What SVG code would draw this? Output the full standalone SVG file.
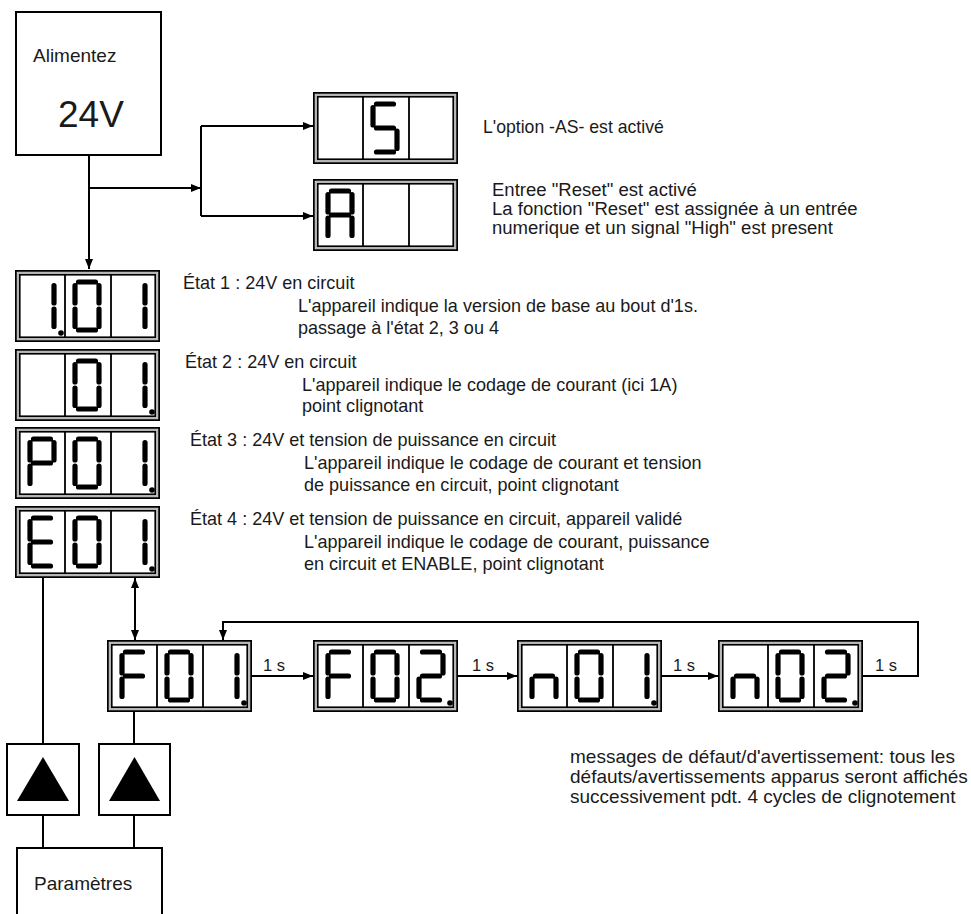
<svg xmlns="http://www.w3.org/2000/svg" xmlns:xlink="http://www.w3.org/1999/xlink" width="971" height="914" viewBox="0 0 971 914">
<style>
text{font-family:"Liberation Sans",Arial,sans-serif;fill:#1a1a1a;}
.t{font-size:18px;}
.st{font-size:19px;}
.m{font-size:19px;}
.s{font-size:16.5px;}
.box{fill:#fff;stroke:#000;stroke-width:2;}
.con{fill:none;stroke:#000;stroke-width:2;}
.seg{fill:none;stroke:#000;stroke-width:5.2;stroke-linecap:round;}
.fo{fill:#fff;stroke:#000;stroke-width:1.8;}
.fm{fill:none;stroke:#9a9a9a;stroke-width:1;}
.fi{fill:none;stroke:#000;stroke-width:1.8;}
</style>
<defs>
<marker id="ah" viewBox="0 0 10 8" refX="10" refY="4" markerWidth="10" markerHeight="8" markerUnits="userSpaceOnUse" orient="auto-start-reverse"><path d="M0,0 L10,4 L0,8 z" fill="#000"/></marker>
<g id="frame">
<rect class="fo" x="0.9" y="0.9" width="143.2" height="70.2"/>
<rect class="fm" x="2.8" y="2.8" width="139.4" height="66.4"/>
<rect class="fi" x="4.7" y="4.7" width="135.6" height="62.6"/>
<path class="fi" d="M50,4.7 V67.3 M96,4.7 V67.3"/>
</g>
<path id="d0" class="seg" d="M13.5,12 H30.5 M34,15.5 V33 M34,39 V56.5 M13.5,60 H30.5 M10,39 V56.5 M10,15.5 V33"/>
<path id="d1" class="seg" d="M34,15.5 V33 M34,39 V56.5"/>
<path id="d2" class="seg" d="M13.5,12 H30.5 M34,15.5 V33 M13.5,36 H30.5 M10,39 V56.5 M13.5,60 H30.5"/>
<path id="dS" class="seg" d="M13.5,12 H30.5 M10,15.5 V33 M13.5,36 H30.5 M34,39 V56.5 M13.5,60 H30.5"/>
<path id="dA" class="seg" d="M13.5,12 H30.5 M34,15.5 V33 M34,39 V56.5 M10,39 V56.5 M10,15.5 V33 M13.5,36 H30.5"/>
<path id="dP" class="seg" d="M13.5,12 H30.5 M34,15.5 V33 M10,15.5 V33 M13.5,36 H30.5 M10,39 V56.5"/>
<path id="dE" class="seg" d="M13.5,12 H30.5 M10,15.5 V33 M13.5,36 H30.5 M10,39 V56.5 M13.5,60 H30.5"/>
<path id="dF" class="seg" d="M13.5,12 H30.5 M10,15.5 V33 M13.5,36 H30.5 M10,39 V56.5"/>
<path id="dn" class="seg" d="M13.5,36 H30.5 M10,39 V56.5 M34,39 V56.5"/>
<circle id="dot" cx="41" cy="63" r="2.8" fill="#000"/>
</defs>
<rect width="971" height="914" fill="#fff"/>

<g id="connectors">
<path class="con" d="M89,155 V269" marker-end="url(#ah)"/>
<path class="con" d="M89,188 H201" marker-end="url(#ah)"/>
<path class="con" d="M201,126 V216"/>
<path class="con" d="M201,126 H313" marker-end="url(#ah)"/>
<path class="con" d="M201,216 H313" marker-end="url(#ah)"/>
<path class="con" d="M43,578 V744"/>
<path class="con" d="M135,578 V640" marker-start="url(#ah)" marker-end="url(#ah)"/>
<path class="con" d="M252,676 H313" marker-end="url(#ah)"/>
<path class="con" d="M458,676 H517" marker-end="url(#ah)"/>
<path class="con" d="M662,676 H718" marker-end="url(#ah)"/>
<path class="con" d="M863,676 H918 V622 H223 V640" marker-end="url(#ah)"/>
<path class="con" d="M134,712 V744"/>
<path class="con" d="M43,815 V848"/>
<path class="con" d="M134,815 V848"/>
<text class="s" x="263" y="671">1 s</text>
<text class="s" x="472" y="671">1 s</text>
<text class="s" x="673" y="671">1 s</text>
<text class="s" x="875" y="671">1 s</text>
</g>

<g id="power">
<rect class="box" x="16" y="12" width="145" height="143"/>
<text x="33" y="62" font-size="19">Alimentez</text>
<text x="58" y="127" font-size="37">24V</text>
</g>

<g id="disp-S" transform="translate(313,92)">
<use xlink:href="#frame"/>
<use xlink:href="#dS" x="50"/>
</g>
<text class="t" transform="translate(483,133) scale(0.98,1)">L'option -AS- est activé</text>

<g id="disp-A" transform="translate(313,179)">
<use xlink:href="#frame"/>
<use xlink:href="#dA" x="5"/>
</g>
<g id="reset-text">
<text class="t" transform="translate(492,196) scale(1.03,1)">Entree "Reset" est activé</text>
<text class="t" transform="translate(492,215) scale(1.03,1)">La fonction "Reset" est assignée à un entrée</text>
<text class="t" transform="translate(492,234) scale(1.03,1)">numerique et un signal "High" est present</text>
</g>

<g id="state1">
<g transform="translate(15,270)">
<use xlink:href="#frame"/>
<use xlink:href="#d1" x="5"/><use xlink:href="#dot" x="5"/>
<use xlink:href="#d0" x="50"/>
<use xlink:href="#d1" x="96"/>
</g>
<text class="st" transform="translate(183,289) scale(0.95,1)">État 1 : 24V en circuit</text>
<text class="st" transform="translate(298,312) scale(0.95,1)">L'appareil indique la version de base au bout d'1s.</text>
<text class="st" transform="translate(298,334) scale(0.95,1)">passage à l'état 2, 3 ou 4</text>
</g>

<g id="state2">
<g transform="translate(15,349)">
<use xlink:href="#frame"/>
<use xlink:href="#d0" x="50"/>
<use xlink:href="#d1" x="96"/><use xlink:href="#dot" x="96"/>
</g>
<text class="st" transform="translate(185,368) scale(0.95,1)">État 2 : 24V en circuit</text>
<text class="st" transform="translate(302,391) scale(0.95,1)">L'appareil indique le codage de courant (ici 1A)</text>
<text class="st" transform="translate(302,412) scale(0.95,1)">point clignotant</text>
</g>

<g id="state3">
<g transform="translate(15,427)">
<use xlink:href="#frame"/>
<use xlink:href="#dP" x="5"/>
<use xlink:href="#d0" x="50"/>
<use xlink:href="#d1" x="96"/><use xlink:href="#dot" x="96"/>
</g>
<text class="st" transform="translate(190,446) scale(0.95,1)">État 3 : 24V et tension de puissance en circuit</text>
<text class="st" transform="translate(304,469) scale(0.95,1)">L'appareil indique le codage de courant et tension</text>
<text class="st" transform="translate(304,491) scale(0.95,1)">de puissance en circuit, point clignotant</text>
</g>

<g id="state4">
<g transform="translate(15,506)">
<use xlink:href="#frame"/>
<use xlink:href="#dE" x="5"/>
<use xlink:href="#d0" x="50"/>
<use xlink:href="#d1" x="96"/><use xlink:href="#dot" x="96"/>
</g>
<text class="st" transform="translate(190,525) scale(0.95,1)">État 4 : 24V et tension de puissance en circuit, appareil validé</text>
<text class="st" transform="translate(304,548) scale(0.95,1)">L'appareil indique le codage de courant, puissance</text>
<text class="st" transform="translate(304,570) scale(0.95,1)">en circuit et ENABLE, point clignotant</text>
</g>

<g id="F01" transform="translate(107,640)">
<use xlink:href="#frame"/>
<use xlink:href="#dF" x="5"/>
<use xlink:href="#d0" x="50"/>
<use xlink:href="#d1" x="96"/><use xlink:href="#dot" x="96"/>
</g>
<g id="F02" transform="translate(313,640)">
<use xlink:href="#frame"/>
<use xlink:href="#dF" x="5"/>
<use xlink:href="#d0" x="50"/>
<use xlink:href="#d2" x="96"/><use xlink:href="#dot" x="96"/>
</g>
<g id="n01" transform="translate(517,640)">
<use xlink:href="#frame"/>
<use xlink:href="#dn" x="5"/>
<use xlink:href="#d0" x="50"/>
<use xlink:href="#d1" x="96"/><use xlink:href="#dot" x="96"/>
</g>
<g id="n02" transform="translate(718,640)">
<use xlink:href="#frame"/>
<use xlink:href="#dn" x="5"/>
<use xlink:href="#d0" x="50"/>
<use xlink:href="#d2" x="96"/><use xlink:href="#dot" x="96"/>
</g>

<g id="messages">
<text class="m" x="570" y="763">messages de défaut/d'avertissement: tous les</text>
<text class="m" x="570" y="783">défauts/avertissements apparus seront affichés</text>
<text class="m" x="570" y="803">successivement pdt. 4 cycles de clignotement</text>
</g>

<g id="up1">
<rect class="box" x="7" y="744" width="72" height="71"/>
<path d="M43,757 L17,801 L69,801 z" fill="#000"/>
</g>
<g id="up2">
<rect class="box" x="99" y="744" width="71" height="71"/>
<path d="M134.5,757 L109,801 L160,801 z" fill="#000"/>
</g>

<g id="params">
<rect class="box" x="17" y="848" width="145" height="80"/>
<text x="34" y="890" font-size="19">Paramètres</text>
</g>
</svg>
